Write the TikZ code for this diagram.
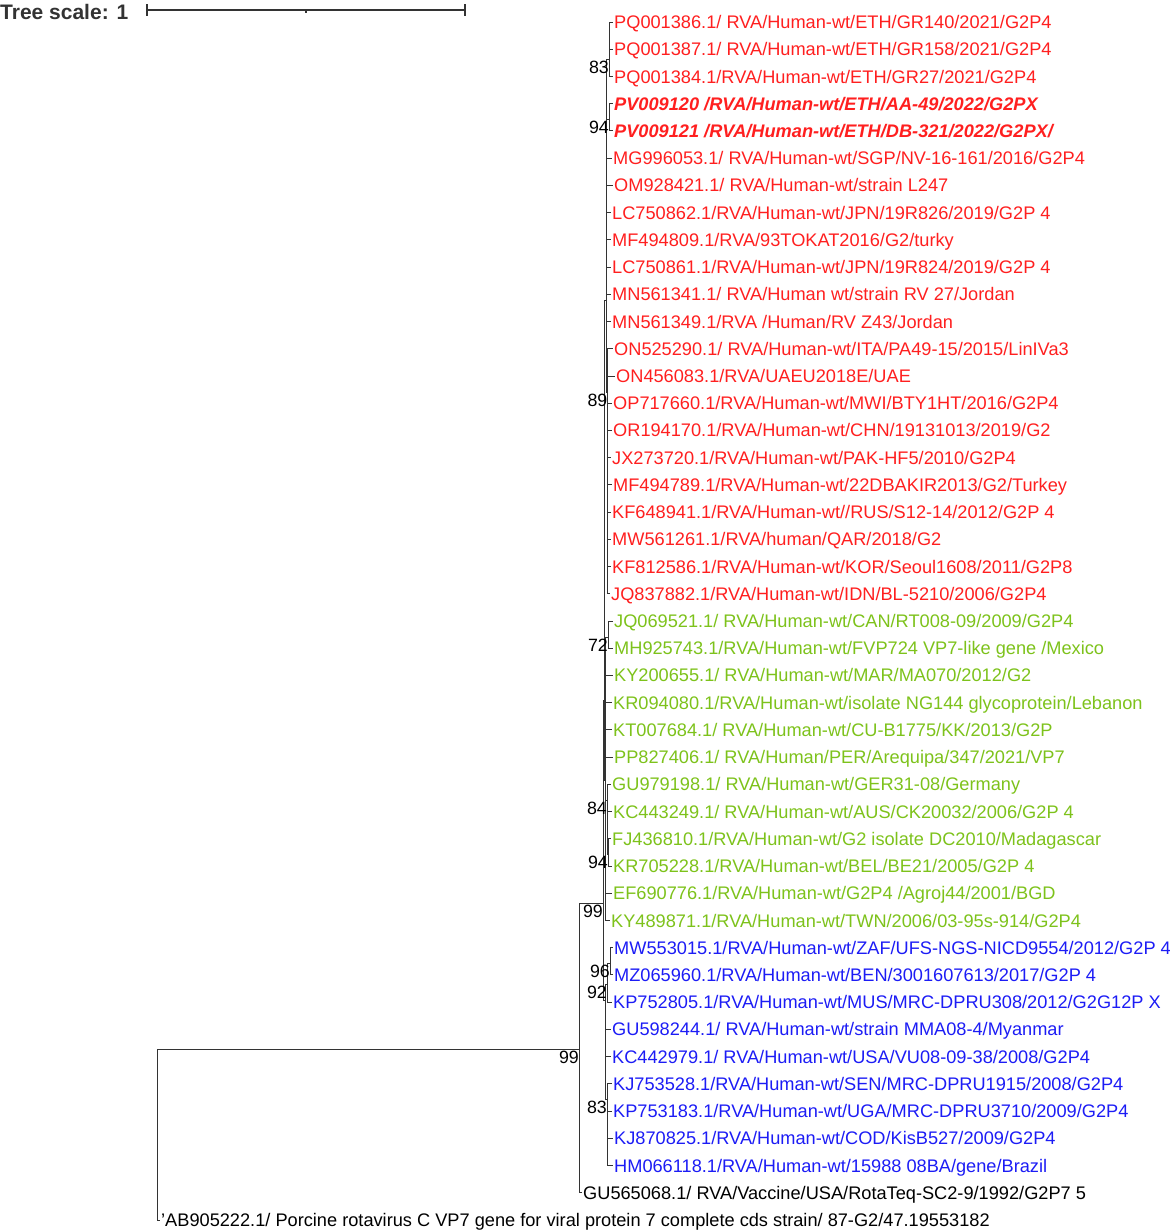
\documentclass[tikz,border=0pt]{standalone}
\usepackage{fontspec}
\setmainfont{Liberation Sans}
\definecolor{cred}{HTML}{FF1F1F}
\definecolor{cgreen}{HTML}{7DC21B}
\definecolor{cblue}{HTML}{1C1CF5}
\definecolor{cline}{HTML}{333333}
\begin{document}
\begin{tikzpicture}[x=1pt,y=-1pt,
  leaf/.style={anchor=west,inner xsep=1.5pt,inner ysep=0pt,text height=13pt,text depth=0pt,font=\fontsize{18.2}{21}\selectfont},
  rl/.style={leaf,text=cred}, gl/.style={leaf,text=cgreen}, bl/.style={leaf,text=cblue}, kl/.style={leaf,text=black},
  boot/.style={anchor=north east,inner sep=0pt,yshift=-1.5pt,font=\fontsize{17.8}{20}\selectfont,text=black},
  br/.style={draw=cline,line width=0.9pt}]
\useasboundingbox (0,0) rectangle (1170,1232);
% scale
\node[anchor=base west,inner sep=0pt,font=\fontsize{21}{24}\selectfont\bfseries,text=cline] (ts) at (0,19) {Tree scale: 1};
\draw[cline,line width=1.3pt] (147,10) -- (465,10);
\draw[cline,line width=1.3pt] (147,4) -- (147,16) (465,4) -- (465,16) (306,10) -- (306,13);
% internal nodes
\coordinate (R) at (157,1049);
\coordinate (A) at (579,1049);
\coordinate (B) at (603,903);
\coordinate (C) at (604,700);
\coordinate (Red) at (606,300);
\coordinate (n83) at (609,59);
\coordinate (n94) at (609,119);
\coordinate (n89) at (607.5,392);
\coordinate (Green) at (605,780);
\coordinate (n72) at (608,637);
\coordinate (n84) at (607,800);
\coordinate (n94b) at (608,854);
\coordinate (Blue) at (605,1000);
\coordinate (n92) at (607,984);
\coordinate (n96) at (610,963);
\coordinate (n83c) at (607,1099);
% leaves
\node[rl] (l0) at (612.5,22) {PQ001386.1/ RVA/Human-wt/ETH/GR140/2021/G2P4};
\node[rl] (l1) at (612.5,49.2) {PQ001387.1/ RVA/Human-wt/ETH/GR158/2021/G2P4};
\node[rl] (l2) at (612.5,76.5) {PQ001384.1/RVA/Human-wt/ETH/GR27/2021/G2P4};
\node[rl,font=\fontsize{18.2}{21}\selectfont\bfseries\itshape] (l3) at (612.5,103.7) {PV009120 /RVA/Human-wt/ETH/AA-49/2022/G2PX};
\node[rl,font=\fontsize{18.2}{21}\selectfont\bfseries\itshape] (l4) at (612.5,130.9) {PV009121 /RVA/Human-wt/ETH/DB-321/2022/G2PX/};
\node[rl] (l5) at (611.5,158.1) {MG996053.1/ RVA/Human-wt/SGP/NV-16-161/2016/G2P4};
\node[rl] (l6) at (612.5,185.4) {OM928421.1/ RVA/Human-wt/strain L247};
\node[rl] (l7) at (610.5,212.6) {LC750862.1/RVA/Human-wt/JPN/19R826/2019/G2P 4};
\node[rl] (l8) at (610.5,239.8) {MF494809.1/RVA/93TOKAT2016/G2/turky};
\node[rl] (l9) at (610.5,267.0) {LC750861.1/RVA/Human-wt/JPN/19R824/2019/G2P 4};
\node[rl] (l10) at (610.5,294.3) {MN561341.1/ RVA/Human wt/strain RV 27/Jordan};
\node[rl] (l11) at (610.5,321.5) {MN561349.1/RVA /Human/RV Z43/Jordan};
\node[rl] (l12) at (612.5,348.7) {ON525290.1/ RVA/Human-wt/ITA/PA49-15/2015/LinIVa3};
\node[rl] (l13) at (614.5,376.0) {ON456083.1/RVA/UAEU2018E/UAE};
\node[rl] (l14) at (611.5,403.2) {OP717660.1/RVA/Human-wt/MWI/BTY1HT/2016/G2P4};
\node[rl] (l15) at (611.5,430.4) {OR194170.1/RVA/Human-wt/CHN/19131013/2019/G2};
\node[rl] (l16) at (610.5,457.6) {JX273720.1/RVA/Human-wt/PAK-HF5/2010/G2P4};
\node[rl] (l17) at (611.5,484.9) {MF494789.1/RVA/Human-wt/22DBAKIR2013/G2/Turkey};
\node[rl] (l18) at (610.5,512.1) {KF648941.1/RVA/Human-wt//RUS/S12-14/2012/G2P 4};
\node[rl] (l19) at (610.5,539.3) {MW561261.1/RVA/human/QAR/2018/G2};
\node[rl] (l20) at (610.5,566.5) {KF812586.1/RVA/Human-wt/KOR/Seoul1608/2011/G2P8};
\node[rl] (l21) at (609.5,593.8) {JQ837882.1/RVA/Human-wt/IDN/BL-5210/2006/G2P4};
\node[gl] (l22) at (612.5,621.0) {JQ069521.1/ RVA/Human-wt/CAN/RT008-09/2009/G2P4};
\node[gl] (l23) at (612.5,648.2) {MH925743.1/RVA/Human-wt/FVP724 VP7-like gene /Mexico};
\node[gl] (l24) at (612.5,675.4) {KY200655.1/ RVA/Human-wt/MAR/MA070/2012/G2};
\node[gl] (l25) at (611.5,702.7) {KR094080.1/RVA/Human-wt/isolate NG144 glycoprotein/Lebanon};
\node[gl] (l26) at (611.5,729.9) {KT007684.1/ RVA/Human-wt/CU-B1775/KK/2013/G2P};
\node[gl] (l27) at (612.5,757.1) {PP827406.1/ RVA/Human/PER/Arequipa/347/2021/VP7};
\node[gl] (l28) at (610.5,784.4) {GU979198.1/ RVA/Human-wt/GER31-08/Germany};
\node[gl] (l29) at (611.5,811.6) {KC443249.1/ RVA/Human-wt/AUS/CK20032/2006/G2P 4};
\node[gl] (l30) at (610.5,838.8) {FJ436810.1/RVA/Human-wt/G2 isolate DC2010/Madagascar};
\node[gl] (l31) at (611.5,866.0) {KR705228.1/RVA/Human-wt/BEL/BE21/2005/G2P 4};
\node[gl] (l32) at (611.5,893.3) {EF690776.1/RVA/Human-wt/G2P4 /Agroj44/2001/BGD};
\node[gl] (l33) at (609.5,920.5) {KY489871.1/RVA/Human-wt/TWN/2006/03-95s-914/G2P4};
\node[bl] (l34) at (612.5,947.7) {MW553015.1/RVA/Human-wt/ZAF/UFS-NGS-NICD9554/2012/G2P 4};
\node[bl] (l35) at (612.5,974.9) {MZ065960.1/RVA/Human-wt/BEN/3001607613/2017/G2P 4};
\node[bl] (l36) at (611.5,1002.2) {KP752805.1/RVA/Human-wt/MUS/MRC-DPRU308/2012/G2G12P X};
\node[bl] (l37) at (610.5,1029.4) {GU598244.1/ RVA/Human-wt/strain MMA08-4/Myanmar};
\node[bl] (l38) at (610.5,1056.6) {KC442979.1/ RVA/Human-wt/USA/VU08-09-38/2008/G2P4};
\node[bl] (l39) at (611.5,1083.9) {KJ753528.1/RVA/Human-wt/SEN/MRC-DPRU1915/2008/G2P4};
\node[bl] (l40) at (611.5,1111.1) {KP753183.1/RVA/Human-wt/UGA/MRC-DPRU3710/2009/G2P4};
\node[bl] (l41) at (612.5,1138.3) {KJ870825.1/RVA/Human-wt/COD/KisB527/2009/G2P4};
\node[bl] (l42) at (612.5,1165.5) {HM066118.1/RVA/Human-wt/15988 08BA/gene/Brazil};
\node[kl] (l43) at (581.5,1192.8) {GU565068.1/ RVA/Vaccine/USA/RotaTeq-SC2-9/1992/G2P7 5};
\node[kl] (l44) at (159.5,1220.0) {'AB905222.1/ Porcine rotavirus C VP7 gene for viral protein 7 complete cds strain/ 87-G2/47.19553182};
% branches
\draw[br] (R) |- (A);
\draw[br] (R) |- (l44.west);
\draw[br] (A) |- (B);
\draw[br] (A) |- (l43.west);
\draw[br] (B) |- (C);
\draw[br] (B) |- (Blue);
\draw[br] (C) |- (Red);
\draw[br] (C) |- (Green);
\draw[br] (Red) |- (n83);
\draw[br] (Red) |- (n94);
\draw[br] (Red) |- (n89);
\foreach \i in {5,...,11} {\draw[br] (Red) |- (l\i.west);}
\foreach \i in {0,1,2} {\draw[br] (n83) |- (l\i.west);}
\foreach \i in {3,4} {\draw[br] (n94) |- (l\i.west);}
\foreach \i in {12,...,21} {\draw[br] (n89) |- (l\i.west);}
\draw[br] (Green) |- (n72);
\draw[br] (Green) |- (n84);
\foreach \i in {24,25,26,27,32,33} {\draw[br] (Green) |- (l\i.west);}
\foreach \i in {22,23} {\draw[br] (n72) |- (l\i.west);}
\draw[br] (n84) |- (n94b);
\foreach \i in {28,29} {\draw[br] (n84) |- (l\i.west);}
\foreach \i in {30,31} {\draw[br] (n94b) |- (l\i.west);}
\draw[br] (Blue) |- (n92);
\draw[br] (Blue) |- (n83c);
\foreach \i in {37,38} {\draw[br] (Blue) |- (l\i.west);}
\draw[br] (n92) |- (n96);
\draw[br] (n92) |- (l36.west);
\foreach \i in {34,35} {\draw[br] (n96) |- (l\i.west);}
\foreach \i in {39,...,42} {\draw[br] (n83c) |- (l\i.west);}
% bootstrap values
\node[boot] (b83) at (n83) {83};
\node[boot] (b94) at (n94) {94};
\node[boot] (b89) at (n89) {89};
\node[boot] (b72) at (n72) {72};
\node[boot] (b84) at (n84) {84};
\node[boot] (b94b) at (n94b) {94};
\node[boot] (bB) at (B) {99};
\node[boot] (b96) at (n96) {96};
\node[boot] (b92) at (n92) {92};
\node[boot] (bA) at (A) {99};
\node[boot] (b83c) at (n83c) {83};
\end{tikzpicture}
\end{document}
